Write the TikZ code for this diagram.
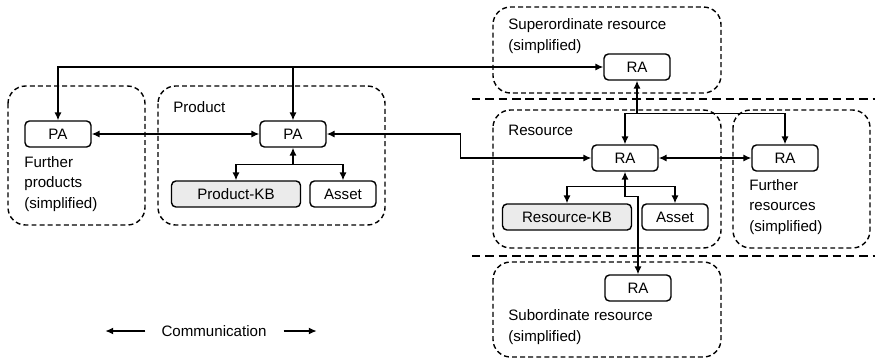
\documentclass[tikz,border=0pt]{standalone}
\usepackage{fontspec}
\setmainfont{Liberation Sans}
\usepackage{tikz}
\usetikzlibrary{arrows.meta}

\tikzset{
  agent/.style = {draw, line width=0.8pt, rounded corners=2.5pt, minimum width=1.32cm,
                  minimum height=0.52cm, inner sep=0pt},
  kb/.style = {agent, fill=black!8, minimum width=2.58cm},
  region/.style = {draw, line width=0.8pt, dash pattern=on 2.8pt off 1.8pt, rounded corners=10pt},
  separator/.style = {line width=1.2pt, dash pattern=on 4.8pt off 2.8pt},
  lbl/.style = {anchor=west, align=left, inner sep=0pt},
  comm/.style = {line width=0.75pt, >={Latex[length=4.5pt,width=4pt]}}
}

\begin{document}
\begin{tikzpicture}[x=0.02cm, y=-0.02cm, font=\fontsize{8.6}{11.9}\selectfont]
  \useasboundingbox (0,0) rectangle (875,363);

  % dashed regions
  \draw[region] (8,86) rectangle (145,225);
  \draw[region] (158,86) rectangle (385,225);
  \draw[region] (493,7) rectangle (721,93);
  \draw[region] (493,110) rectangle (721,248);
  \draw[region] (733,110) rectangle (870,248);
  \draw[region] (493,262) rectangle (721,357);
  \draw[separator] (472,99) -- (875,99);
  \draw[separator] (472,256) -- (875,256);

  % region labels
  \node[lbl] (lfp) at (24,184) {Further\\products\\(simplified)};
  \node[lbl] (lprod) at (173,107) {Product};
  \node[lbl] (lsup) at (508,36) {Superordinate resource\\(simplified)};
  \node[lbl] (lres) at (508,130) {Resource};
  \node[lbl] (lfr) at (749,207) {Further\\resources\\(simplified)};
  \node[lbl] (lsub) at (508,327.5) {Subordinate resource\\(simplified)};

  % agents and their parts
  \node[agent] (pa-fp) at (58,134) {PA};
  \node[agent] (pa) at (293,134) {PA};
  \node[kb] (pkb) at (236,194) {Product-KB};
  \node[agent] (passet) at (343,194) {Asset};
  \node[agent] (ra-sup) at (637,67) {RA};
  \node[agent] (ra) at (625,158) {RA};
  \node[agent] (ra-fr) at (785,158) {RA};
  \node[kb] (rkb) at (567,217) {Resource-KB};
  \node[agent] (rasset) at (675,217) {Asset};
  \node[agent] (ra-sub) at (638,288) {RA};

  % communication between products
  \draw[comm, <->] (pa-fp) -- (pa);
  \draw[comm, <->] (ra-sup.west) -| (pa-fp.north);
  \draw[comm, ->] (ra-sup.west -| pa.north) -- (pa.north);
  \draw[comm, <->] (pa.east) -- ++(134,0) |- (ra.west);

  % product internals
  \draw[comm, <-] (pa.south) -- ++(0,17) coordinate (pj);
  \draw[comm, ->] (pj) -| (pkb);
  \draw[comm, ->] (pj) -| (passet);

  % resource hierarchy
  \draw[comm, <-] (ra-sup.south) -- ++(0,33) coordinate (sj);
  \draw[comm, ->] (sj) -| (ra);
  \draw[comm, ->] (sj) -| (ra-fr);
  \draw[comm, <->] (ra) -- (ra-fr);

  % resource internals
  \draw[comm, <-] (ra.south) -- ++(0,15) coordinate (rj);
  \draw[comm, ->] (rj) -| (rkb);
  \draw[comm, ->] (rj) -| (rasset);
  \draw[comm, ->] (rj) -- ++(0,10) -| (ra-sub);

  % legend
  \node (lcomm) at (214,331) {Communication};
  \draw[comm, ->] (lcomm.west) ++(-10,0) -- ++(-40,0);
  \draw[comm, ->] (lcomm.east) ++(11,0) -- ++(33,0);
\end{tikzpicture}
\end{document}
